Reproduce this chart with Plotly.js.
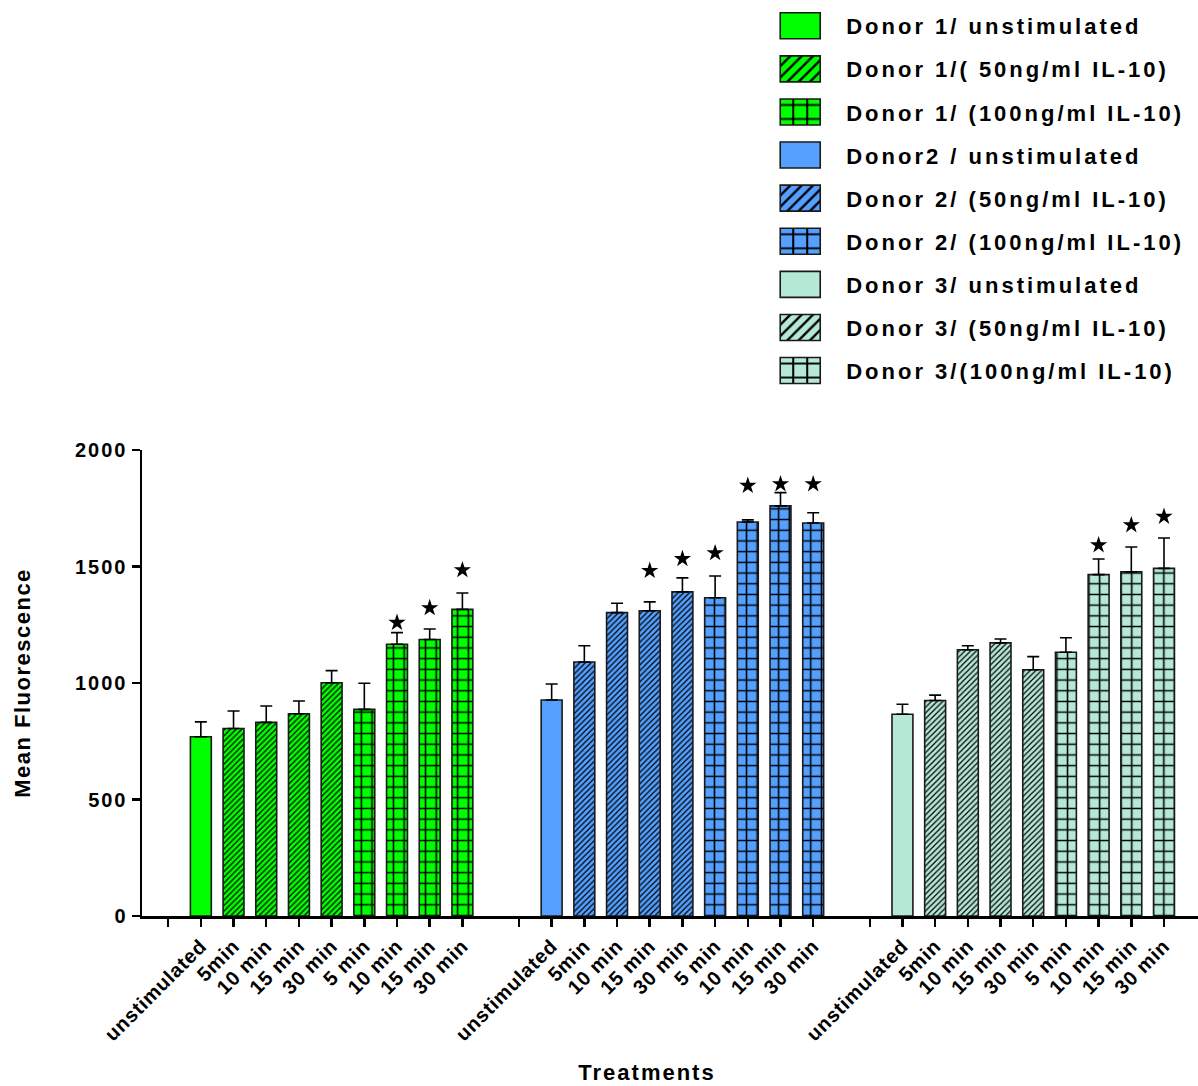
<!DOCTYPE html>
<html>
<head>
<meta charset="utf-8">
<script src="https://cdn.plot.ly/plotly-3.0.1.min.js"></script>
<style>html,body{margin:0;padding:0;background:#fff;}</style>
</head>
<body>
<div id="chart" style="width:1198px;height:1086px;"></div>
<script>
// ---- data ----
const groupLabels = ["unstimulated", "5min", "10 min", "15 min", "30 min", "5 min", "10 min", "15 min", "30 min"];

const seriesNames = [
  "Donor 1/ unstimulated", "Donor 1/( 50ng/ml IL-10)", "Donor 1/ (100ng/ml IL-10)",
  "Donor2 / unstimulated", "Donor 2/ (50ng/ml IL-10)", "Donor 2/ (100ng/ml IL-10)",
  "Donor 3/ unstimulated", "Donor 3/ (50ng/ml IL-10)", "Donor 3/(100ng/ml IL-10)"
];

const d1Unstim = [769],   d1UnstimErr = [64];
const d1Il50   = [805, 831, 868, 1001],  d1Il50Err  = [75, 70, 55, 52];
const d1Il100  = [887, 1166, 1187, 1316], d1Il100Err = [112, 50, 45, 70];
const d2Unstim = [927],   d2UnstimErr = [69];
const d2Il50   = [1090, 1302, 1310, 1391], d2Il50Err  = [70, 40, 38, 60];
const d2Il100  = [1366, 1691, 1760, 1687], d2Il100Err = [93, 9, 57, 44];
const d3Unstim = [866],   d3UnstimErr = [43];
const d3Il50   = [925, 1143, 1172, 1057], d3Il50Err  = [23, 17, 17, 56];
const d3Il100  = [1132, 1465, 1477, 1492], d3Il100Err = [62, 67, 107, 130];

// significance stars (height of the star, null = none)
const d1Il50Star  = [null, null, null, null];
const d1Il100Star = [null, 1259, 1322, 1485];
const d2Il50Star  = [null, null, 1482, 1533];
const d2Il100Star = [1558, 1847, 1854, 1854];
const d3Il50Star  = [null, null, null, null];
const d3Il100Star = [null, 1592, 1678, 1714];

const yTicks = [0, 500, 1000, 1500, 2000];

// ---- styling ----
const colors = ["#00FF00", "#55A0FF", "#B5E9D6"];
const FONT = 'Arial, "Liberation Sans", sans-serif';
const groupStep = 10.73;   // slot spacing between donor groups
const barW = 0.64;

const donorData = [
  [[d1Unstim, d1UnstimErr, null], [d1Il50, d1Il50Err, d1Il50Star], [d1Il100, d1Il100Err, d1Il100Star]],
  [[d2Unstim, d2UnstimErr, null], [d2Il50, d2Il50Err, d2Il50Star], [d2Il100, d2Il100Err, d2Il100Star]],
  [[d3Unstim, d3UnstimErr, null], [d3Il50, d3Il50Err, d3Il50Star], [d3Il100, d3Il100Err, d3Il100Star]]
];
const slotStart = [1, 2, 6];
const patterns = [
  {shape: ""},
  {shape: "/", size: 4, solidity: 0.3, fgcolor: "#000", fillmode: "replace"},
  {shape: "+", size: 10.7, solidity: 0.27, fgcolor: "#000", fillmode: "replace"}
];
const legendPatternZoom = [1, 2, 1.4];   // on-screen pattern magnification for legend boxes

const traces = [];
const starX = [], starY = [];
const tickvals = [], ticktext = [];

donorData.forEach((donor, g) => {
  const base = g * groupStep;
  tickvals.push(base); ticktext.push("");
  groupLabels.forEach((lab, i) => { tickvals.push(base + i + 1); ticktext.push(lab); });
  donor.forEach((cond, c) => {
    const [vals, errs, stars] = cond;
    const xs = vals.map((v, i) => base + slotStart[c] + i);
    const pat = Object.assign({bgcolor: colors[g]}, patterns[c]);
    traces.push({
      type: "bar",
      name: seriesNames[g * 3 + c],
      legendgroup: "g" + (g * 3 + c),
      x: xs, y: vals, width: barW,
      marker: {color: colors[g], line: {color: "#1a1a1a", width: 1.6}, pattern: pat},
      error_y: {type: "data", symmetric: false, array: errs, arrayminus: errs.map(() => 0),
                color: "#000", thickness: 1.6, width: 6},
      hoverinfo: "x+y"
    });
    if (stars) stars.forEach((s, i) => { if (s !== null) { starX.push(xs[i]); starY.push(s); } });
  });
});

traces.push({
  type: "scatter", mode: "markers", x: starX, y: starY, showlegend: false,
  marker: {symbol: "star", size: 13, color: "#000", line: {width: 0}}, hoverinfo: "skip"
});

const layout = {
  width: 1198, height: 1086,
  margin: {l: 142, r: 0, t: 450, b: 170},
  paper_bgcolor: "#fff", plot_bgcolor: "#fff",
  barmode: "overlay",
  font: {family: FONT, color: "#000"},
  showlegend: true,
  legend: {
    x: 0.629, y: 1.955, xanchor: "left", yanchor: "top",
    font: {family: FONT, size: 22, weight: 700, color: "#000"},
    tracegroupgap: 11.5, itemwidth: 30, bgcolor: "rgba(0,0,0,0)"
  },
  xaxis: {
    range: [-0.8, 31.5], tickmode: "array", tickvals: tickvals, ticktext: ticktext,
    tickangle: -45, ticks: "outside", ticklen: 8, tickwidth: 2.5, tickcolor: "#000",
    showline: true, linecolor: "#000", linewidth: 2.5, showgrid: false, zeroline: false,
    tickfont: {family: FONT, size: 20, weight: 700, color: "#000"},
    title: {text: "Treatments", font: {family: FONT, size: 22, weight: 700, color: "#000"}, standoff: 27}
  },
  yaxis: {
    range: [0, 2000], tickmode: "array", tickvals: yTicks,
    ticks: "outside", ticklen: 8, tickwidth: 2.5, tickcolor: "#000",
    showline: true, linecolor: "#000", linewidth: 2.5, showgrid: false, zeroline: false,
    tickfont: {family: FONT, size: 20, weight: 700, color: "#000"},
    title: {text: "Mean Fluorescence", font: {family: FONT, size: 22, weight: 700, color: "#000"}, standoff: 47}
  }
};

Plotly.newPlot("chart", traces, layout, {displayModeBar: false, staticPlot: true}).then(gd => {
  // widen text like the reference's stretched lettering
  gd.querySelectorAll(".ytick text").forEach(t => t.style.letterSpacing = "2px");
  gd.querySelectorAll(".xtick text").forEach(t => t.style.letterSpacing = "0.8px");
  const yt = gd.querySelector(".g-ytitle text"); if (yt) yt.style.letterSpacing = "1.5px";
  const xt = gd.querySelector(".g-xtitle"); if (xt) {
    xt.setAttribute("transform", "translate(-23,0)");
    const t = xt.querySelector("text"); if (t) t.style.letterSpacing = "2px";
  }
  // let the legend grow beyond its computed box
  gd.querySelectorAll(".legend [clip-path]").forEach(e => e.removeAttribute("clip-path"));
  gd.querySelectorAll(".legend").forEach(e => e.removeAttribute("clip-path"));
  // enlarge legend swatches to boxes like the reference
  let counter = 0;
  gd.querySelectorAll(".legend .traces").forEach((tr, idx) => {
    const txt = tr.querySelector("text.legendtext");
    if (!txt) return;
    txt.style.letterSpacing = "3px";
    const tLeft = txt.getBoundingClientRect().left;
    tr.querySelectorAll(".legendpoints path").forEach(p => {
      const pr = p.getBoundingClientRect();
      if (!pr.width || !pr.height) return;
      const b = p.getBBox();
      const sx = 40 / pr.width, sy = 26 / pr.height;
      const desiredLeft = tLeft - 6 - 40;
      const dx = desiredLeft - pr.left;
      const cy = b.y + b.height / 2;
      p.setAttribute("transform", `translate(${b.x * (1 - sx) + dx},${cy * (1 - sy)}) scale(${sx},${sy})`);
      p.style.vectorEffect = "non-scaling-stroke";
      // keep the fill pattern at a sensible on-screen size
      const k = legendPatternZoom[idx % 3];
      const f = p.style.fill || p.getAttribute("fill") || "";
      const m = f.match(/#([^"')\s]+)/);
      if (!m) return;
      const pat = document.getElementById(m[1]);
      if (!pat) return;
      const clone = pat.cloneNode(true);
      const nid = m[1] + "-lg" + (counter++);
      clone.id = nid;
      clone.setAttribute("patternTransform", `scale(${k / sx},${k / sy})`);
      pat.parentNode.appendChild(clone);
      p.style.fill = `url(#${nid})`;
    });
  });
});
</script>
</body>
</html>
